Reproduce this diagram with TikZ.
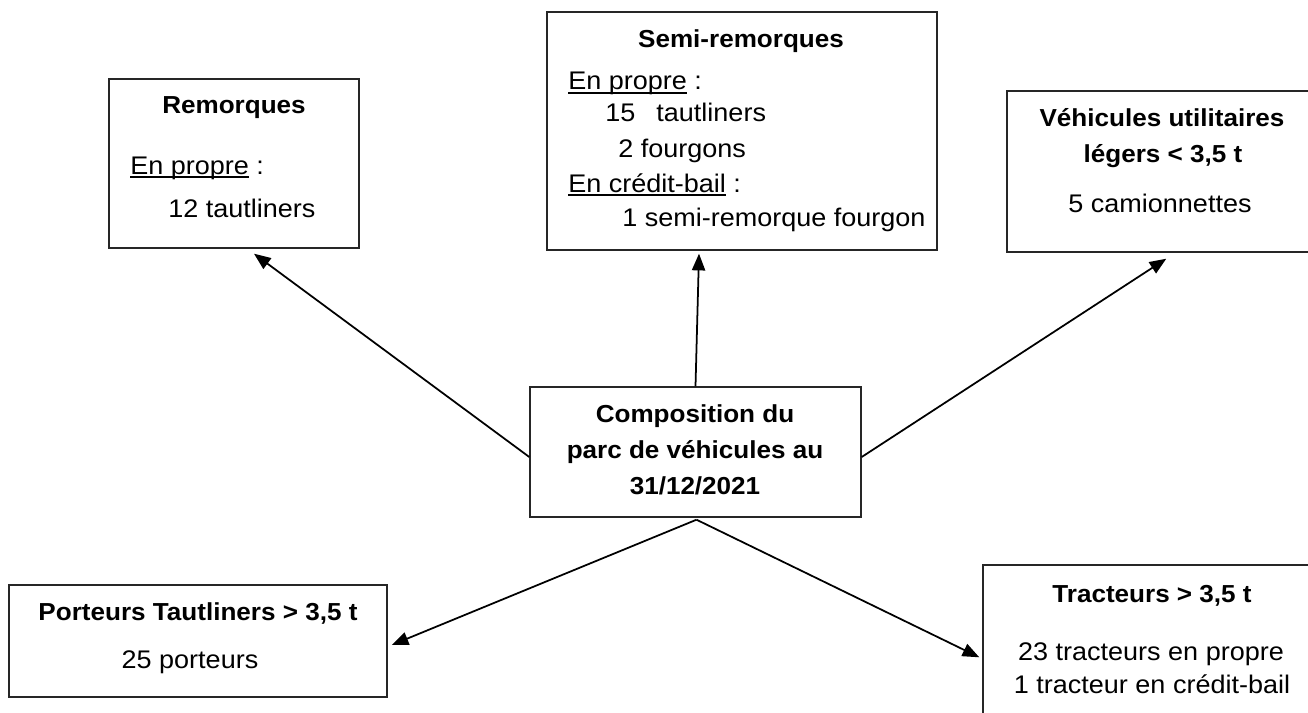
\documentclass[tikz,border=0pt]{standalone}
\usepackage{fontspec}
\setmainfont{Liberation Sans}[FakeStretch=1.06]
\usetikzlibrary{arrows.meta,fit}

\newlength\largeur
\newcommand{\souligne}[1]{\settowidth{\largeur}{#1}#1\hspace{-\largeur}\rule[-2pt]{\largeur}{0.6pt}}

\tikzset{
  cadre/.style={draw=black!85, line width=0.8pt, inner sep=0pt},
  titre/.style={inner sep=0pt, anchor=base, font=\fontsize{14}{16}\selectfont\bfseries},
  ligne/.style={inner sep=0pt, anchor=base west},
  milieu/.style={inner sep=0pt, anchor=base},
  fleche/.style={-{Triangle[length=9.5pt,width=7.5pt]}, line width=1pt}
}

\begin{document}
\begin{tikzpicture}[x=0.02cm, y=-0.02cm, font=\fontsize{14.5}{16}\selectfont]
    \useasboundingbox (0, 0) rectangle (1308, 713);
    \clip (0, 0) rectangle (1308, 713);
    % cadres
    \node[cadre, fit={(530, 387) (861, 517)}] (compo) {};
    \node[cadre, fit={(109, 79) (359, 248)}] (rem) {};
    \node[cadre, fit={(547, 12) (937, 250)}] (semi) {};
    \node[cadre, fit={(1007, 91) (1330, 252)}] (vul) {};
    \node[cadre, fit={(9, 585) (387, 697)}] (port) {};
    \node[cadre, fit={(983, 565) (1330, 730)}] (trac) {};
    % textes
    \node[titre] (compo-1) at (695, 422) {Composition du};
    \node[titre] (compo-2) at (695, 458) {parc de véhicules au};
    \node[titre] (compo-3) at (695, 494) {31/12/2021};
    \node[titre] (rem-t) at (234, 113) {Remorques};
    \node[ligne] (rem-1) at (130, 174) {\souligne{En propre} :};
    \node[ligne] (rem-2) at (168, 217) {12 tautliners};
    \node[titre] (semi-t) at (741, 48) {Semi-remorques};
    \node[ligne] (semi-1) at (568, 90) {\souligne{En propre} :};
    \node[ligne] (semi-2) at (605, 122) {15\hspace{12pt}tautliners};
    \node[ligne] (semi-3) at (618, 157) {2 fourgons};
    \node[ligne] (semi-4) at (568, 192) {\souligne{En crédit-bail} :};
    \node[ligne] (semi-5) at (622, 226) {1 semi-remorque fourgon};
    \node[titre] (vul-t1) at (1162, 127) {Véhicules utilitaires};
    \node[titre] (vul-t2) at (1163, 162) {légers < 3,5 t};
    \node[milieu] (vul-1) at (1160, 212) {5 camionnettes};
    \node[titre] (port-t) at (198, 620) {Porteurs Tautliners > 3,5 t};
    \node[milieu] (port-1) at (190, 668) {25 porteurs};
    \node[titre] (trac-t) at (1152, 602) {Tracteurs > 3,5 t};
    \node[milieu] (trac-1) at (1151, 660) {23 tracteurs en propre};
    \node[milieu] (trac-2) at (1152, 693) {1 tracteur en crédit-bail};
    % fleches
    \draw[fleche] ([shift={(0, 5)}]compo.west) -- ([shift={(20, 5)}]rem.south);
    \draw[fleche] (compo.north) -- ([shift={(-43, 3)}]semi.south);
    \draw[fleche] ([shift={(0, 5)}]compo.east) -- ([shift={(160, 6)}]vul.south west);
    \draw[fleche] ([shift={(1, 2)}]compo.south) -- ([shift={(4, 4)}]port.east);
    \draw[fleche] ([shift={(1, 2)}]compo.south) -- ([shift={(-3, 93)}]trac.north west);
  \end{tikzpicture}
\end{document}
